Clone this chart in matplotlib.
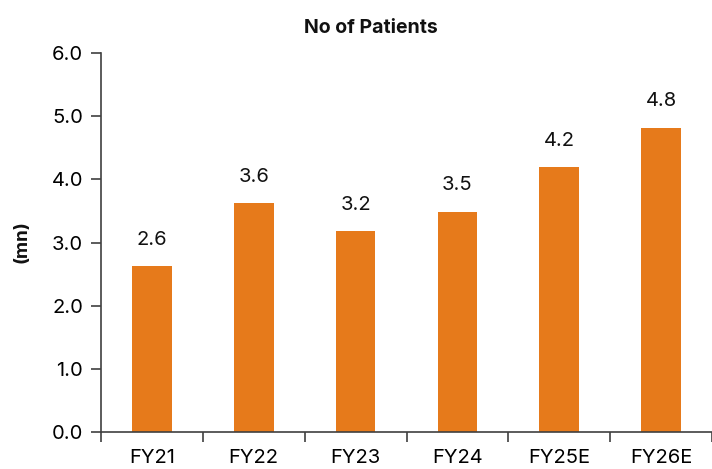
import matplotlib.pyplot as plt
import numpy as np

plt.rcParams['font.family'] = ['Inter', 'DejaVu Sans']

years = ['FY21', 'FY22', 'FY23', 'FY24', 'FY25E', 'FY26E']
patients = [2.63, 3.62, 3.18, 3.49, 4.19, 4.82]   # mn

bar_color = '#E67A1B'
axis_color = '#404040'

fig = plt.figure(figsize=(7.12, 4.69), dpi=100)
ax = fig.add_axes([101 / 712, 1 - 432 / 469, 611 / 712, 379 / 469])

x = np.arange(len(years))
bars = ax.bar(x, patients, width=0.39, color=bar_color, zorder=2)

for xi, v in zip(x, patients):
    ax.text(xi, v + 0.27, f'{v:.1f}', ha='center', va='bottom', fontsize=14.5, color='#111111')

ax.set_ylim(0, 6)
ax.set_yticks(np.arange(0, 6.1, 1))
ax.set_yticklabels([f'{t:.1f}' for t in np.arange(0, 6.1, 1)])
ax.set_xlim(-0.5, 5.5 - 6 / 103)
ax.set_xticks(x)
ax.set_xticklabels(years)
# tick marks sit between the categories
ax.set_xticks(np.arange(-0.5, 6, 1), minor=True)
ax.tick_params(axis='x', which='major', length=0, pad=12, labelsize=14.5)
ax.tick_params(axis='x', which='minor', length=7, width=1.2, color=axis_color, direction='out')
ax.tick_params(axis='y', length=7, width=1.2, color=axis_color, pad=6, labelsize=14.5)

for side in ['top', 'right']:
    ax.spines[side].set_visible(False)
for side in ['left', 'bottom']:
    ax.spines[side].set_color(axis_color)
    ax.spines[side].set_linewidth(1.2)

fig.text(371 / 712, 1 - 28 / 469, 'No of Patients', ha='center', va='center',
         fontsize=14, fontweight='bold', color='#111111')
fig.text(22 / 712, 1 - 242 / 469, '(mn)', ha='center', va='center', rotation=90,
         fontsize=13.5, fontweight='bold', color='#111111')

fig.savefig('out.png', dpi=100)
